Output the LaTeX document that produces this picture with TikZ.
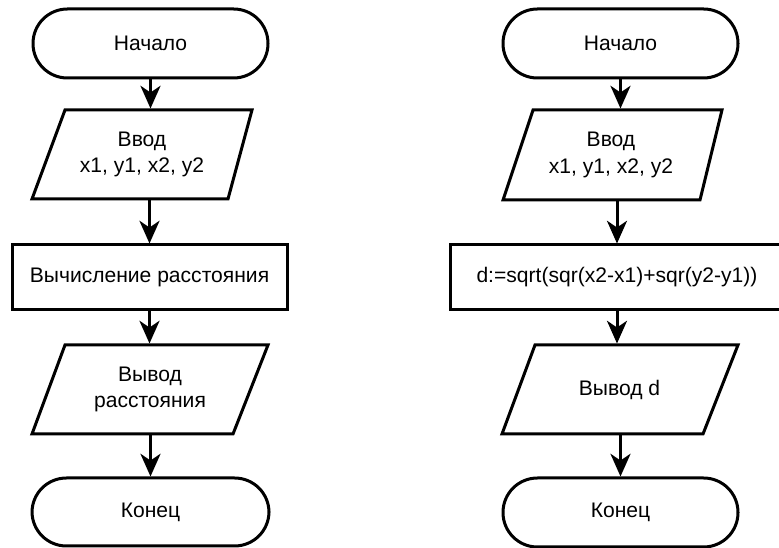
\documentclass[tikz,border=0pt]{standalone}
\usepackage{fontspec}
\setmainfont{Liberation Sans}
\usetikzlibrary{arrows.meta}
\begin{document}
\begin{tikzpicture}[x=0.75pt,y=-0.75pt,line width=2.25pt,
  txt/.style={inner sep=0pt, align=center, font=\fontsize{15.8}{20}\selectfont},
  term/.style={txt, draw, rounded corners=25.8pt, minimum width=176.25pt, minimum height=51.75pt},
  proc/.style={txt, draw, minimum height=48.75pt},
  io/.style={txt, minimum height=66.75pt},
  arr/.style={-{Stealth[length=17pt,width=15pt,inset=5pt]}}]
\useasboundingbox (0,0) rectangle (779,548);
\clip (0,0) rectangle (779,548);
% left column
\node[term] (startL) at (150.5,43.5) {Начало};
\node[io] (inL) at (142,154.5) {Ввод\\x1, y1, x2, y2};
\draw (65,110) -- (252,110) -- (228,199) -- (32,199) -- cycle;
\node[proc, minimum width=206.25pt] (rectL) at (149.5,277.5) {Вычисление расстояния};
\node[io] (outL) at (150,389.5) {Вывод\\расстояния};
\draw (65,345) -- (268,345) -- (233,434) -- (32,434) -- cycle;
\node[term, minimum width=177.75pt, minimum height=51pt] (endL) at (150.5,512) {Конец};
\draw[arr] (startL.south) -- (startL.south |- inL.north);
\draw[arr] (rectL.north |- inL.south) -- (rectL.north);
\draw[arr] (rectL.south) -- (rectL.south |- outL.north);
\draw[arr] (endL.north |- outL.south) -- (endL.north);
% right column
\node[term] (startR) at (620.5,43.5) {Начало};
\node[io, minimum height=67.5pt] (inR) at (611,155) {Ввод\\x1, y1, x2, y2};
\draw (533,110) -- (722,110) -- (700,200) -- (503,200) -- cycle;
\node[proc, minimum width=250.5pt] (rectR) at (617,277.5) {d:=sqrt(sqr(x2-x1)+sqr(y2-y1))};
\node[io] (outR) at (619.5,389.5) {Вывод d};
\draw (535,345) -- (738,345) -- (703,434) -- (502,434) -- cycle;
\node[term] (endR) at (620.5,512.5) {Конец};
\draw[arr] (startR.south) -- (startR.south |- inR.north);
\draw[arr] (rectR.north |- inR.south) -- (rectR.north);
\draw[arr] (rectR.south) -- (rectR.south |- outR.north);
\draw[arr] (endR.north |- outR.south) -- (endR.north);
\end{tikzpicture}
\end{document}
